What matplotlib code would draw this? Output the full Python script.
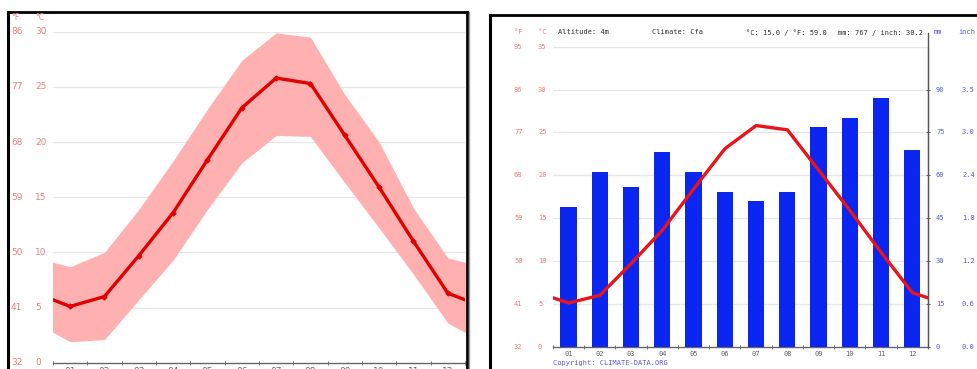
import matplotlib.pyplot as plt
from matplotlib.lines import Line2D

MONTHS = ["01", "02", "03", "04", "05", "06", "07", "08", "09", "10", "11", "12"]
TEMP_MEAN = [5.1, 6.0, 9.7, 13.6, 18.4, 23.1, 25.8, 25.3, 20.6, 15.9, 11.0, 6.3]
TEMP_MAX = [8.7, 10.0, 13.9, 18.3, 23.0, 27.4, 29.9, 29.5, 24.3, 20.0, 14.0, 9.5]
TEMP_MIN = [1.9, 2.1, 5.7, 9.3, 13.9, 18.1, 20.6, 20.5, 16.3, 12.2, 8.0, 3.6]
RAIN_MM = [49, 61, 56, 68, 61, 54, 51, 54, 77, 80, 87, 69]

C_TICKS_LEFT = [0, 5, 10, 15, 20, 25, 30]
F_TICKS_LEFT = ["32", "41", "50", "59", "68", "77", "86"]
C_TICKS_RIGHT = [0, 5, 10, 15, 20, 25, 30, 35]
F_TICKS_RIGHT = ["32", "41", "50", "59", "68", "77", "86", "95"]
MM_TICKS = [0, 15, 30, 45, 60, 75, 90]
INCH_TICKS = ["0.0", "0.6", "1.2", "1.8", "2.4", "3.0", "3.5"]

W, H = 978, 369
LABEL_RED = "#e88080"
LABEL_BLUE = "#5a5ae0"
GRID = "#e6e6e6"
MONO = "DejaVu Sans Mono"


def wrap(values):
    # December before January and January after December so the line runs to the edges
    return [values[-1]] + list(values) + [values[0]]


def fx(px):
    return px / W


def fy(py):
    return 1 - py / H


def frame(fig, left, top, right):
    fig.add_artist(Line2D([fx(left), fx(left)], [fy(top), 0], color="black", lw=2.2))
    fig.add_artist(Line2D([fx(left), fx(right)], [fy(top), fy(top)], color="black", lw=2.0))
    if right < W:
        fig.add_artist(Line2D([fx(right), fx(right)], [fy(top), 0], color="black", lw=2.0))
        fig.add_artist(Line2D([fx(right + 2), fx(right + 2)], [fy(top), 0], color="#999999", lw=1.0))


def month_axis(ax, label_pad, label_size, label_family):
    x = list(range(1, 13))
    ax.set_xlim(0.5, 12.5)
    ax.set_xticks(x)
    ax.set_xticklabels(MONTHS, fontsize=label_size, color="#666666", family=label_family)
    ax.set_xticks([i + 0.5 for i in range(0, 13)], minor=True)
    ax.tick_params(axis="x", which="major", length=0, pad=label_pad)
    ax.tick_params(axis="x", which="minor", length=3, direction="inout", color="#666666")
    for s in ["top", "right", "left"]:
        ax.spines[s].set_visible(False)
    ax.spines["bottom"].set_color("#666666")
    ax.spines["bottom"].set_linewidth(1.0)
    ax.set_yticks([])


def left_chart(fig):
    ax = fig.add_axes([fx(53), fy(362.7), fx(465 - 53), (362.7 - 31.7) / H])
    x = list(range(0, 14))
    ax.fill_between(x, wrap(TEMP_MIN), wrap(TEMP_MAX), color="#ffb1b1", lw=0, zorder=2)
    ax.plot(x, wrap(TEMP_MEAN), color="#e00000", lw=2.4, marker="D", markersize=2.5,
            solid_joinstyle="round", zorder=3)
    ax.set_ylim(0, 30)
    for c in C_TICKS_LEFT[1:]:
        ax.axhline(c, color=GRID, lw=0.9, zorder=1)
    month_axis(ax, 3, 6.5, "DejaVu Sans")

    for c, f in zip(C_TICKS_LEFT, F_TICKS_LEFT):
        y = fy(362.7 - c * 11.03)
        fig.text(fx(11), y, f, fontsize=6.5, color=LABEL_RED, va="center")
        fig.text(fx(35), y, str(c), fontsize=6.5, color=LABEL_RED, va="center")
    fig.text(fx(11), fy(18), "°F", fontsize=5.5, color=LABEL_RED, va="center")
    fig.text(fx(35), fy(18), "°C", fontsize=5.5, color=LABEL_RED, va="center")


def right_chart(fig):
    ax = fig.add_axes([fx(553), fy(346.7), fx(928 - 553), 300 / H])
    x = list(range(1, 13))
    ax.set_ylim(0, 35)
    for c in C_TICKS_RIGHT[1:]:
        ax.axhline(c, color=GRID, lw=0.9, zorder=0)
    month_axis(ax, 3, 5, MONO)

    ax2 = ax.twinx()
    ax2.set_ylim(0, 105)
    ax2.bar(x, RAIN_MM, width=0.52, color="#0a26f0", zorder=2)
    ax2.set_yticks(MM_TICKS)
    ax2.set_yticklabels([])
    ax2.tick_params(axis="y", length=3, direction="inout", color="#666666")
    for s in ["top", "left", "bottom"]:
        ax2.spines[s].set_visible(False)
    ax2.spines["right"].set_color("#555555")
    ax2.spines["right"].set_bounds(0, 105)
    ax2.add_artist(Line2D([1, 1], [0, 1.046], transform=ax2.transAxes, color="#555555",
                          lw=1.0, clip_on=False))

    ax3 = ax.twinx()
    ax3.set_ylim(0, 35)
    ax3.axis("off")
    ax3.plot(list(range(0, 14)), wrap(TEMP_MEAN), color="#e8141a", lw=2.4,
             solid_joinstyle="round", solid_capstyle="round", zorder=3)
    ax3.set_xlim(0.5, 12.5)

    for c, f in zip(C_TICKS_RIGHT, F_TICKS_RIGHT):
        y = fy(346.7 - c * 8.571)
        fig.text(fx(514), y, f, fontsize=5, color=LABEL_RED, va="center", family=MONO)
        fig.text(fx(538), y, str(c), fontsize=5, color=LABEL_RED, va="center", family=MONO)
    for mm, inch in zip(MM_TICKS, INCH_TICKS):
        y = fy(346.7 - mm * 2.857)
        fig.text(fx(936), y, str(mm), fontsize=5, color=LABEL_BLUE, va="center", family=MONO)
        fig.text(fx(962), y, inch, fontsize=5, color=LABEL_BLUE, va="center", family=MONO)

    top = fy(32.5)
    fig.text(fx(514), top, "°F", fontsize=5, color=LABEL_RED, va="center", family=MONO)
    fig.text(fx(538), top, "°C", fontsize=5, color=LABEL_RED, va="center", family=MONO)
    fig.text(fx(558), top, "Altitude: 4m", fontsize=5, color="#333333", va="center", family=MONO)
    fig.text(fx(652), top, "Climate: Cfa", fontsize=5, color="#333333", va="center", family=MONO)
    fig.text(fx(746), top, "°C: 15.0 / °F: 59.0", fontsize=5, color="#333333", va="center", family=MONO)
    fig.text(fx(838), top, "mm: 767 / inch: 30.2", fontsize=5, color="#333333", va="center", family=MONO)
    fig.text(fx(934), top, "mm", fontsize=5, color=LABEL_BLUE, va="center", family=MONO)
    fig.text(fx(958), top, "inch", fontsize=5, color=LABEL_BLUE, va="center", family=MONO)
    fig.text(fx(553), fy(363.5), "Copyright: CLIMATE-DATA.ORG", fontsize=5, color=LABEL_BLUE,
             va="center", family=MONO)


def main():
    fig = plt.figure(figsize=(W / 100, H / 100), dpi=100)
    left_chart(fig)
    right_chart(fig)
    frame(fig, 8, 12, 467)
    frame(fig, 490, 15, W + 10)
    fig.savefig("out.png", dpi=100)


if __name__ == "__main__":
    main()
